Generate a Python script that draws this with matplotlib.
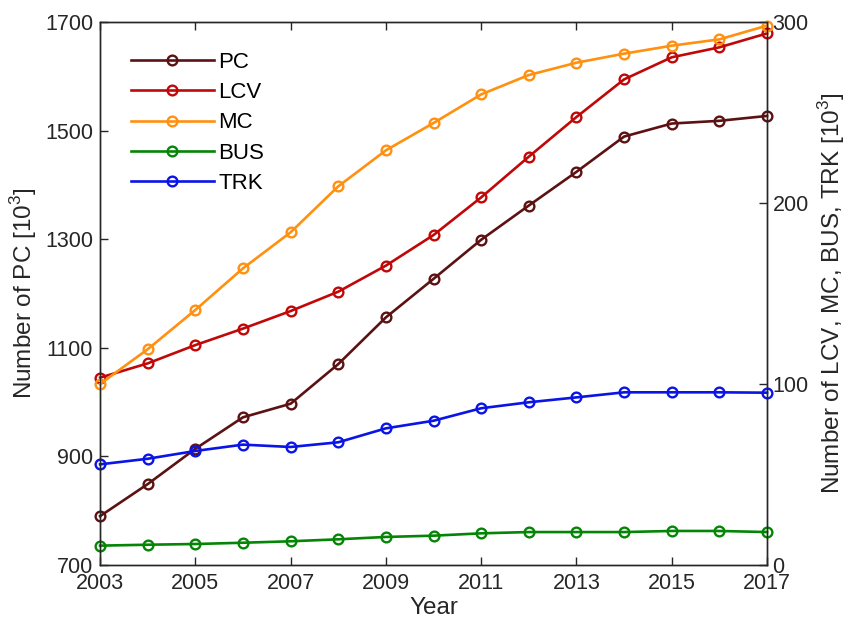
import numpy as np
import matplotlib as mpl
mpl.use('Agg')
import matplotlib.pyplot as plt

plt.rcParams['font.family'] = ['Liberation Sans', 'DejaVu Sans']
plt.rcParams['font.size'] = 15.5
plt.rcParams['mathtext.fontset'] = 'custom'
plt.rcParams['mathtext.rm'] = 'Liberation Sans'

years = np.arange(2003, 2018)

# passenger cars, left axis [10^3]
pc = [790, 849, 914, 972, 997, 1070, 1156, 1227, 1299, 1362, 1424, 1489, 1513, 1518, 1527]

# other vehicle classes, right axis [10^3]
lcv = [103.5, 111.4, 121.5, 130.6, 140.3, 151.0, 165.4, 182.3, 203.1, 225.6, 247.5, 268.3, 280.5, 286.0, 293.7]
mc = [100.0, 119.2, 140.9, 163.9, 183.8, 209.2, 229.1, 244.2, 260.0, 270.7, 277.5, 282.5, 286.9, 290.4, 298.0]
bus = [10.7, 11.2, 11.6, 12.3, 13.1, 14.2, 15.5, 16.2, 17.5, 18.2, 18.2, 18.2, 18.8, 18.8, 18.2]
trk = [55.6, 58.7, 63.0, 66.5, 65.2, 67.8, 75.5, 79.7, 86.6, 89.9, 92.6, 95.4, 95.4, 95.4, 95.2]

c_pc = '#5c1212'
c_lcv = '#c00808'
c_mc = '#ff9010'
c_bus = '#058505'
c_trk = '#0a14e6'
ink = '#262626'

style = dict(marker='o', markersize=7, markerfacecolor='none',
             markeredgewidth=1.7, linewidth=1.9, clip_on=False)

fig = plt.figure(figsize=(8.48, 6.23), dpi=100)
ax1 = fig.add_axes([0.118, 0.0931, 0.7865, 0.8716])
ax2 = ax1.twinx()

l_pc, = ax1.plot(years, pc, color=c_pc, label='PC', **style)
l_lcv, = ax2.plot(years, lcv, color=c_lcv, label='LCV', **style)
l_mc, = ax2.plot(years, mc, color=c_mc, label='MC', **style)
l_bus, = ax2.plot(years, bus, color=c_bus, label='BUS', **style)
l_trk, = ax2.plot(years, trk, color=c_trk, label='TRK', **style)

ax1.set_xlim(2003, 2017)
ax1.set_ylim(700, 1700)
ax2.set_ylim(0, 300)
ax1.set_xticks(np.arange(2003, 2018, 2))
ax1.set_yticks(np.arange(700, 1701, 200))
ax2.set_yticks([0, 100, 200, 300])

ax1.tick_params(axis='x', direction='in', top=True, length=6, width=1, pad=6,
                colors=ink)
ax1.tick_params(axis='y', direction='in', length=6, width=1, pad=5, colors=ink)
ax2.tick_params(axis='y', direction='in', length=6, width=1, pad=4, colors=ink)
for ax in (ax1, ax2):
    for s in ax.spines.values():
        s.set_color(ink)
        s.set_linewidth(1)

ax1.set_xlabel('Year', color=ink, fontsize=17.5, labelpad=2)
ax1.set_ylabel(r'Number of PC [10$^3$]', color=ink, fontsize=17.5, labelpad=4)
ax2.set_ylabel(r'Number of LCV, MC, BUS, TRK [10$^3$]', color=ink, fontsize=17.5,
               labelpad=5)

ax2.legend(handles=[l_pc, l_lcv, l_mc, l_bus, l_trk], loc='upper left',
           bbox_to_anchor=(0.026, 0.97), frameon=False, fontsize=16,
           handlelength=3.75, handletextpad=0.2, labelspacing=0.42,
           borderaxespad=0.2)

fig.savefig('out.png', dpi=100)
